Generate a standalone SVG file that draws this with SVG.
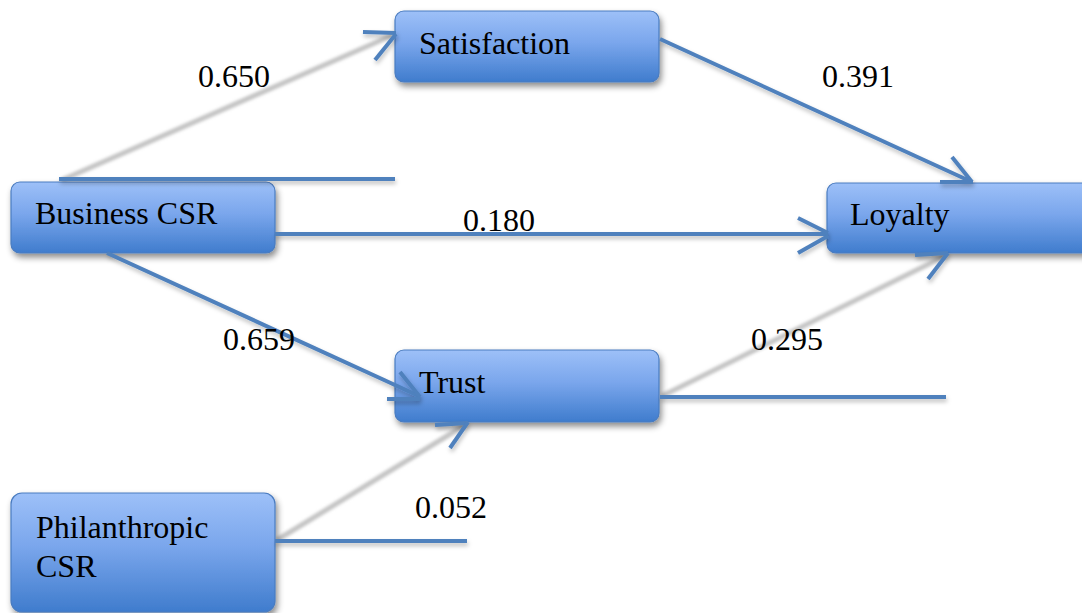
<svg xmlns="http://www.w3.org/2000/svg" width="1082" height="613" viewBox="0 0 1082 613">
<defs>
<linearGradient id="nodeGrad" x1="0" y1="0" x2="0" y2="1">
<stop offset="0" stop-color="#9dc0f8"/>
<stop offset="0.45" stop-color="#7aa6ec"/>
<stop offset="1" stop-color="#3f7ccd"/>
</linearGradient>
<filter id="nodeShadow" x="-10%" y="-20%" width="125%" height="150%">
<feDropShadow dx="2" dy="4" stdDeviation="3" flood-color="#000" flood-opacity="0.45"/>
</filter>
<filter id="lineShadow" x="-5%" y="-50%" width="110%" height="200%">
<feDropShadow dx="1" dy="3" stdDeviation="2" flood-color="#000" flood-opacity="0.25"/>
</filter>
<filter id="grayBlur" x="-10%" y="-20%" width="120%" height="140%">
<feGaussianBlur stdDeviation="1.6"/>
</filter>
</defs>
<style>
.node rect{fill:url(#nodeGrad);stroke:#4a7cc0;stroke-width:1.2;filter:url(#nodeShadow)}
.blue{stroke:#4f81bd;stroke-width:4;fill:none;stroke-linecap:butt}
.gray{stroke:#c4c4c4;stroke-width:5;fill:none;filter:url(#grayBlur)}
.conn{filter:url(#lineShadow)}
.t{font-family:'Liberation Serif','DejaVu Serif',serif;font-size:32px;fill:#000}
</style>
<rect width="1082" height="613" fill="#ffffff"/>

<g id="shadow-lines">
<line class="gray" x1="62" y1="180" x2="393" y2="35"/>
<line class="gray" x1="662" y1="396" x2="945" y2="256"/>
<line class="gray" x1="277" y1="540" x2="465" y2="425"/>
</g>

<g id="node-satisfaction" class="node">
<rect x="395" y="11" width="264" height="71" rx="9"/>
<text class="t" x="419" y="54">Satisfaction</text>
</g>
<g id="node-business-csr" class="node">
<rect x="11" y="182" width="264" height="71" rx="9"/>
<text class="t" x="35" y="224">Business CSR</text>
</g>
<g id="node-loyalty" class="node">
<rect x="827" y="183" width="270" height="70" rx="9"/>
<text class="t" x="850" y="225">Loyalty</text>
</g>
<g id="node-trust" class="node">
<rect x="395" y="350" width="264" height="72" rx="9"/>
<text class="t" x="419" y="393">Trust</text>
</g>
<g id="node-philanthropic-csr" class="node">
<rect x="11" y="493" width="264" height="119" rx="11"/>
<text class="t" x="36" y="538">Philanthropic</text>
<text class="t" x="36" y="577">CSR</text>
</g>

<g id="connectors" class="conn">
<line class="blue" x1="59" y1="179" x2="395" y2="179"/>
<polyline class="blue" points="363,32 396,33"/>
<polyline class="blue" points="375,60 396,34"/>
<line class="blue" x1="660" y1="39" x2="972" y2="182"/>
<polyline class="blue" points="952,157 972,182"/>
<polyline class="blue" points="940,182 973,182"/>
<line class="blue" x1="275" y1="234" x2="828" y2="234"/>
<polyline class="blue" points="798,218 828,233"/>
<polyline class="blue" points="798,253 828,236"/>
<line class="blue" x1="107" y1="253" x2="419" y2="396"/>
<polyline class="blue" points="400,372 420,397"/>
<polyline class="blue" points="387,399 420,399"/>
<line class="blue" x1="660" y1="397" x2="946" y2="397"/>
<polyline class="blue" points="915,255 948,253"/>
<polyline class="blue" points="928,279 948,253"/>
<line class="blue" x1="275" y1="541" x2="467" y2="541"/>
<polyline class="blue" points="435,425 468,423"/>
<polyline class="blue" points="450,448 468,422"/>
</g>

<g id="labels">
<text class="t" x="198" y="87">0.650</text>
<text class="t" x="822" y="87">0.391</text>
<text class="t" x="463" y="231">0.180</text>
<text class="t" x="223" y="350">0.659</text>
<text class="t" x="751" y="350">0.295</text>
<text class="t" x="415" y="518">0.052</text>
</g>
</svg>
